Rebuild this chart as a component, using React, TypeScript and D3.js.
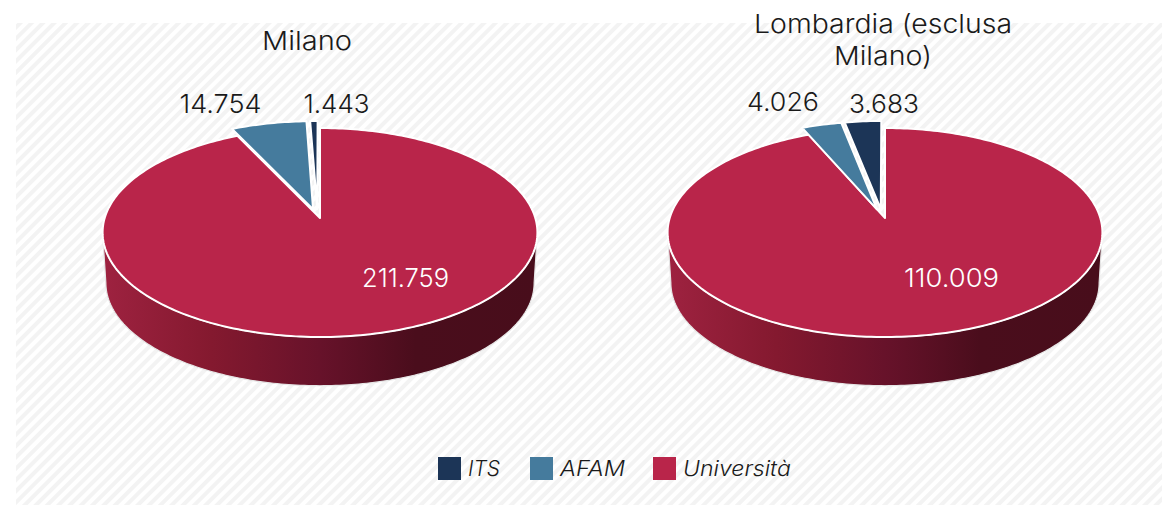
import React from "react";
import * as d3 from "d3";

const seriesNames = ["Università", "AFAM", "ITS"];
const milanoValues = [211759, 14754, 1443];
const lombardiaValues = [110009, 4026, 3683];
const milanoLabels = ["211.759", "14.754", "1.443"];
const lombardiaLabels = ["110.009", "4.026", "3.683"];
const colors = ["#b9254a", "#457b9d", "#1c3557"];
const legendOrder = ["ITS", "AFAM", "Università"];

const FONT = "Inter, 'Open Sans', sans-serif";
const P = 0.1388, A = 215.3, B = 102.5, DEPTH = 50.5, EXPLODE = 0.09, NUDGE_X = -0.011;

function project(cx: number, cy: number, X: number, Y: number, s = 1, dy = 0): [number, number] {
  const w = 1 - P * Y;
  return [cx + (s * A * X) / w, cy + dy + (s * B * Y) / w];
}
const line = d3.line();

function slicePath(cx: number, cy: number, a0: number, a1: number, ox: number, oy: number) {
  const n = Math.max(4, Math.ceil((a1 - a0) / 0.02));
  const pts: [number, number][] = [project(cx, cy, ox, oy)];
  d3.range(n + 1).forEach((i) => {
    const a = a0 + ((a1 - a0) * i) / n;
    pts.push(project(cx, cy, ox + Math.sin(a), oy - Math.cos(a)));
  });
  return line(pts) + "Z";
}

function sidePath(cx: number, cy: number) {
  const n = 180;
  // the rim's silhouette starts where the projected circle is widest
  const start = Math.acos(-P);
  const ts = d3.range(n + 1).map((i) => start + ((2 * Math.PI - 2 * start) * i) / n);
  const upper = ts.map((a) => project(cx, cy, Math.sin(a), -Math.cos(a)));
  const lower = ts.slice().reverse().map((a) => project(cx, cy, Math.sin(a), -Math.cos(a), 0.985, DEPTH));
  return line([...upper, ...lower]) + "Z";
}

function Pie3D({ cx, cy, values }: { cx: number; cy: number; values: number[] }) {
  const arcs = d3.pie<number>().sort(null)(values);
  return (
    <g>
      <path d={sidePath(cx, cy)} fill="url(#side)" stroke="#e6e6e6" strokeWidth={1.2} />
      {arcs.map((a, i) => {
        const mid = (a.startAngle + a.endAngle) / 2;
        const e = i === 0 ? 0 : EXPLODE;
        const nudge = i === 0 ? 0 : NUDGE_X;
        return (
          <path
            key={i}
            d={slicePath(cx, cy, a.startAngle, a.endAngle, nudge + e * Math.sin(mid), -e * Math.cos(mid))}
            fill={colors[i]}
            stroke="#fff"
            strokeWidth={2}
            strokeLinejoin="round"
          />
        );
      })}
    </g>
  );
}

function Label({ x, y, w, t, size = 26, fill = "#1a1a1a", italic = false, anchor = "middle" }: any) {
  return (
    <text
      x={x}
      y={y}
      fill={fill}
      fontFamily={FONT}
      fontSize={size}
      fontWeight={300}
      fontStyle={italic ? "italic" : "normal"}
      textAnchor={anchor}
      textLength={w}
      lengthAdjust="spacingAndGlyphs"
    >
      {t}
    </text>
  );
}

export default function App() {
  const cy = 218;
  return (
    <svg width={1162} height={505} style={{ position: "absolute", left: 0, top: 0, display: "block" }}>
      <defs>
        <pattern id="bg" width={8} height={8} patternUnits="userSpaceOnUse" patternTransform="rotate(-45 16 23)">
          <rect width={8} height={8} fill="#fff" />
          <rect width={8} height={4} fill="#f3f3f3" />
        </pattern>
        <linearGradient id="side" x1="0" x2="1" y1="0" y2="0">
          <stop offset="0" stopColor="#9e2240" />
          <stop offset="0.25" stopColor="#84192f" />
          <stop offset="0.5" stopColor="#67122a" />
          <stop offset="0.72" stopColor="#4a0d1c" />
          <stop offset="1" stopColor="#480d1b" />
        </linearGradient>
      </defs>
      <rect x={16} y={23} width={1146} height={482} fill="url(#bg)" />

      <Pie3D cx={320} cy={cy} values={milanoValues} />
      <Pie3D cx={885} cy={cy} values={lombardiaValues} />

      <Label x={307} y={50} w={90} t="Milano" />
      <Label x={883} y={33} w={258} t="Lombardia (esclusa" />
      <Label x={883} y={65} w={98} t="Milano)" />

      <Label x={220.5} y={113} w={82} t={milanoLabels[1]} />
      <Label x={336.5} y={113} w={66} t={milanoLabels[2]} />
      <Label x={405.5} y={287} w={87} t={milanoLabels[0]} fill="#fff" />
      <Label x={783} y={111} w={72} t={lombardiaLabels[1]} />
      <Label x={884} y={113} w={70} t={lombardiaLabels[2]} />
      <Label x={951.5} y={287} w={95} t={lombardiaLabels[0]} fill="#fff" />

      {legendOrder.map((n, i) => {
        const swatch = [438, 530, 653][i];
        const width = [32, 65, 108][i];
        return (
          <g key={n}>
            <rect x={swatch} y={457} width={23} height={23} fill={colors[seriesNames.indexOf(n)]} />
            <Label x={swatch + 30} y={476} w={width} t={n} size={21} italic anchor="start" />
          </g>
        );
      })}
    </svg>
  );
}
